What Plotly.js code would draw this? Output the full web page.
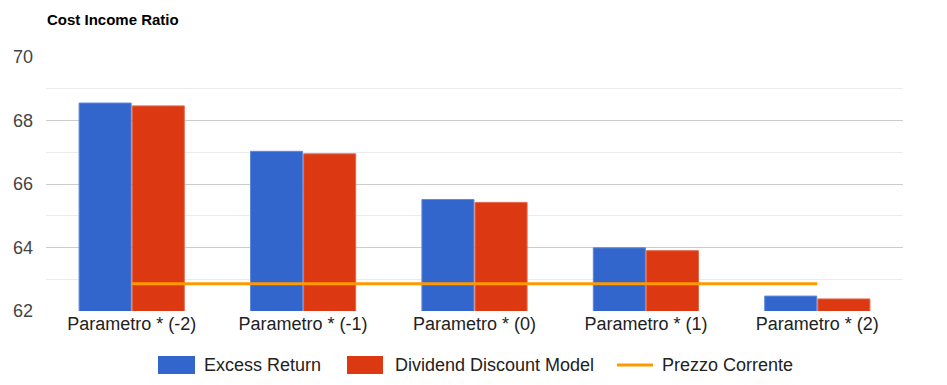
<!DOCTYPE html>
<html>
<head>
<meta charset="utf-8">
<script src="https://cdn.plot.ly/plotly-3.0.1.min.js"></script>
<style>html,body{margin:0;padding:0;background:#fff;}#chart{width:947px;height:385px;}</style>
</head>
<body>
<div id="chart"></div>
<script>
const categories = ["Parametro * (-2)", "Parametro * (-1)", "Parametro * (0)", "Parametro * (1)", "Parametro * (2)"];
const seriesNames = ["Excess Return", "Dividend Discount Model", "Prezzo Corrente"];
const excessReturn = [68.55, 67.03, 65.51, 63.99, 62.47];
const dividendDiscount = [68.46, 66.95, 65.42, 63.90, 62.38];
const prezzoCorrente = [62.86, 62.86, 62.86, 62.86, 62.86];
const yTicks = [62, 64, 66, 68, 70];

const font = "Liberation Sans, Arial, sans-serif";
const colors = ["#3366cc", "#dc3912", "#ff9900"];

const data = [
  {type: "bar", name: seriesNames[0], x: categories, y: excessReturn,
   marker: {color: colors[0], line: {color: "#5f88d9", width: 1}}},
  {type: "bar", name: seriesNames[1], x: categories, y: dividendDiscount,
   marker: {color: colors[1], line: {color: "#e5674a", width: 1}}},
  {type: "scatter", mode: "lines", name: seriesNames[2], x: categories, y: prezzoCorrente,
   line: {color: colors[2], width: 3}}
];

// pixel -> paper helpers for the custom legend (plot area: x 46..903, y 57..311)
const L = 46, R = 44, T = 57, B = 74, W = 947, H = 385;
const pw = W - L - R, ph = H - T - B;
const px = v => (v - L) / pw;
const py = v => (T + ph - v) / ph;

const legendItems = [
  {kind: "rect", x0: 158, x1: 195, text: 202},
  {kind: "rect", x0: 347, x1: 383, text: 393},
  {kind: "line", x0: 617, x1: 653, text: 660}
];
const shapes = [], annotations = [];
legendItems.forEach((it, i) => {
  if (it.kind === "rect") {
    shapes.push({type: "rect", xref: "paper", yref: "paper",
      x0: px(it.x0), x1: px(it.x1), y0: py(374), y1: py(356),
      fillcolor: colors[i], line: {width: 0}});
  } else {
    shapes.push({type: "line", xref: "paper", yref: "paper",
      x0: px(it.x0), x1: px(it.x1), y0: py(365), y1: py(365),
      line: {color: colors[i], width: 3}});
  }
  annotations.push({xref: "paper", yref: "paper", x: px(it.text), y: py(365),
    xanchor: "left", yanchor: "middle", showarrow: false, text: seriesNames[i],
    font: {family: font, size: 18, color: "#222"}});
});

const layout = {
  width: W, height: H,
  margin: {l: L, r: R, t: T, b: B, autoexpand: false},
  paper_bgcolor: "#fff", plot_bgcolor: "#fff",
  font: {family: font, size: 18, color: "#222"},
  title: {text: "<b>Cost Income Ratio</b>", x: 47/947, xanchor: "left", y: 1 - 20/385, yanchor: "middle",
          font: {family: font, size: 15, color: "#000"}},
  barmode: "group", bargap: 0.38, bargroupgap: 0.02,
  xaxis: {type: "category", showgrid: false, zeroline: false, showline: false, ticks: "",
          tickfont: {family: font, size: 18, color: "#222"}},
  yaxis: {range: [62, 70], tickvals: yTicks, ticktext: yTicks.map(String),
          gridcolor: "#cccccc", gridwidth: 1, zeroline: false, showline: false, ticks: "",
          ticklabelstandoff: 12,
          tickfont: {family: font, size: 18, color: "#444"},
          minor: {dtick: 1, showgrid: true, gridcolor: "#ebebeb", gridwidth: 1}},
  showlegend: false,
  shapes: shapes,
  annotations: annotations,
  hovermode: false
};

Plotly.newPlot("chart", data, layout, {staticPlot: true, displayModeBar: false});
</script>
</body>
</html>
